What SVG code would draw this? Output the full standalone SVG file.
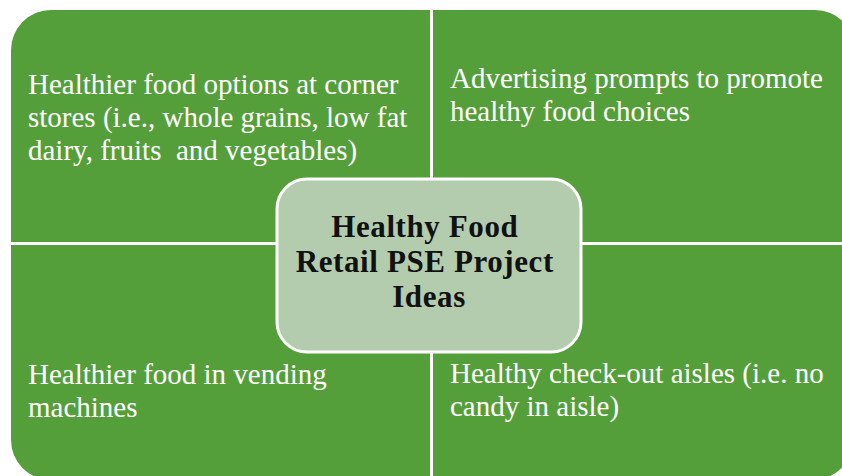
<svg xmlns="http://www.w3.org/2000/svg" width="842" height="476" viewBox="0 0 842 476">
  <style>
    .quad { fill: #559F3B; }
    .label { font-family: "Liberation Serif", "DejaVu Serif", serif; font-size: 29px; fill: #FFFFFF; }
    .hub { fill: #B3CCAE; stroke: #FFFFFF; stroke-width: 3; }
    .title { font-family: "Liberation Serif", "DejaVu Serif", serif; font-size: 31px; font-weight: bold; letter-spacing: 0.6px; fill: #111111; text-anchor: middle; }
  </style>
  <rect width="842" height="476" fill="#FFFFFF"/>

  <!-- top-left quadrant -->
  <g id="q-corner-stores">
    <path class="quad" d="M11,50 A40,40 0 0 1 51,10 L430,10 L430,242 L11,242 Z"/>
    <text class="label">
      <tspan x="28" y="94">Healthier food options at corner</tspan>
      <tspan x="28" y="127">stores (i.e., whole grains, low fat</tspan>
      <tspan x="28" y="160">dairy, fruits&#160; and vegetables)</tspan>
    </text>
  </g>

  <!-- top-right quadrant -->
  <g id="q-advertising">
    <path class="quad" d="M433,10 L815,10 A40,40 0 0 1 855,50 L855,242 L433,242 Z"/>
    <text class="label">
      <tspan x="450" y="88">Advertising prompts to promote</tspan>
      <tspan x="450" y="121">healthy food choices</tspan>
    </text>
  </g>

  <!-- bottom-left quadrant -->
  <g id="q-vending">
    <path class="quad" d="M11,245 L430,245 L430,480 L51,480 A40,40 0 0 1 11,440 Z"/>
    <text class="label">
      <tspan x="28" y="384">Healthier food in vending</tspan>
      <tspan x="28" y="417">machines</tspan>
    </text>
  </g>

  <!-- bottom-right quadrant -->
  <g id="q-checkout">
    <path class="quad" d="M433,245 L853,245 L853,440 A40,40 0 0 1 813,480 L433,480 Z"/>
    <text class="label">
      <tspan x="450" y="383">Healthy check-out aisles (i.e. no</tspan>
      <tspan x="450" y="416">candy in aisle)</tspan>
    </text>
  </g>

  <!-- central hub -->
  <g id="hub">
    <rect class="hub" x="277" y="179" width="304" height="173" rx="30" ry="30"/>
    <text class="title">
      <tspan x="429" y="237">Healthy Food</tspan>
      <tspan x="429" y="272">Retail PSE Project</tspan>
      <tspan x="429" y="307">Ideas</tspan>
    </text>
  </g>
</svg>
